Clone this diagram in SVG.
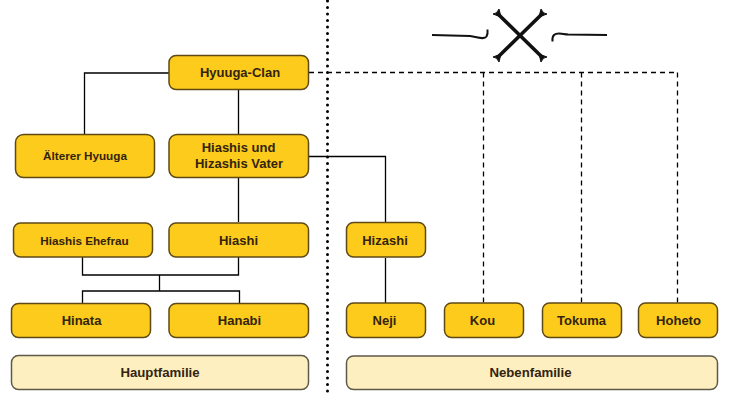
<svg xmlns="http://www.w3.org/2000/svg" width="730" height="400" viewBox="0 0 730 400">
<style>
.n{fill:#fdcb1b;stroke:#5e4a14;stroke-width:1.5}
.f{fill:#fdefc0;stroke:#5f5a48;stroke-width:1.5}
text{font-family:"Liberation Sans",Arial,sans-serif;font-weight:bold;text-anchor:middle;fill:#33240f}
.l{font-size:13px}
.s{font-size:11.700px}
.h{font-size:13.200px}
.c{fill:none;stroke:#000;stroke-width:1.300}
.d{fill:none;stroke:#000;stroke-width:1.300;stroke-dasharray:5 4}
</style>
<rect width="730" height="400" fill="#fff"/>
<g id="connectors">
<path class="c" d="M169 73H84.500V134"/>
<path class="c" d="M238.500 90V134"/>
<path class="c" d="M238.500 178V222"/>
<path class="c" d="M309 156.500H385.500V222"/>
<path class="c" d="M385.500 258V303"/>
<path class="c" d="M82.500 257V275H238.500V257"/>
<path class="c" d="M159.500 275V291"/>
<path class="c" d="M82.500 303V291H239.500V303"/>
<path class="d" d="M309 72.500H678"/>
<path class="d" d="M483.500 72.500V303"/>
<path class="d" d="M581.500 72.500V303"/>
<path class="d" d="M677.500 72.500V303"/>
</g>
<path id="divider" d="M327.500 1V392" fill="none" stroke="#000" stroke-width="3" stroke-linecap="round" stroke-dasharray="0 6.500"/>
<g id="emblem" fill="none" stroke="#111">
<path d="M497 13L543 58M543 13L497 58" stroke-width="3.600"/>
<path d="M493 14Q497 14 499 9L501 17ZM547 14Q543 14 541 9L539 17ZM493 57Q497 57 499 62L501 54ZM547 57Q543 57 541 62L539 54Z" fill="#111" stroke-width="1"/>
<path d="M432 35L470 36C478 37 484 40 486.500 36.500Q488 34 487.500 29.500" stroke-width="2"/>
<path d="M607 35L568 34.500C562 34 557 32 554 35Q552 37 552.500 41.500" stroke-width="2"/>
</g>
<g id="hyuuga-clan"><rect class="n" x="169" y="55.500" width="139.500" height="34" rx="7"/><text class="l" x="240" y="77">Hyuuga-Clan</text></g>
<g id="aelterer-hyuuga"><rect class="n" x="15.500" y="134.500" width="139" height="43" rx="8"/><text class="s" x="85" y="160">Älterer Hyuuga</text></g>
<g id="vater"><rect class="n" x="169" y="134.500" width="139.500" height="43" rx="8"/><text class="l" x="238.500" y="152">Hiashis und</text><text class="l" x="239" y="168">Hizashis Vater</text></g>
<g id="ehefrau"><rect class="n" x="13.500" y="223" width="139" height="34" rx="7"/><text class="s" x="84.500" y="245">Hiashis Ehefrau</text></g>
<g id="hiashi"><rect class="n" x="169" y="223" width="139.500" height="34" rx="7"/><text class="l" x="238.500" y="245">Hiashi</text></g>
<g id="hizashi"><rect class="n" x="346.500" y="222.500" width="79" height="34.500" rx="7"/><text class="l" x="385" y="245">Hizashi</text></g>
<g id="hinata"><rect class="n" x="11.500" y="303.500" width="139" height="34" rx="7"/><text class="l" x="81.500" y="325">Hinata</text></g>
<g id="hanabi"><rect class="n" x="169" y="303.500" width="139.500" height="34" rx="7"/><text class="l" x="239.500" y="325">Hanabi</text></g>
<g id="neji"><rect class="n" x="346.500" y="303" width="79" height="34.500" rx="7"/><text class="l" x="384.500" y="325">Neji</text></g>
<g id="kou"><rect class="n" x="444.500" y="303" width="79" height="34.500" rx="7"/><text class="l" x="482.500" y="325">Kou</text></g>
<g id="tokuma"><rect class="n" x="542.500" y="303" width="79" height="34.500" rx="7"/><text class="l" x="581.500" y="325">Tokuma</text></g>
<g id="hoheto"><rect class="n" x="638.500" y="303" width="79" height="34.500" rx="7"/><text class="l" x="678.500" y="325">Hoheto</text></g>
<g id="hauptfamilie"><rect class="f" x="11.500" y="355.500" width="297" height="34" rx="7"/><text class="h" x="160" y="377">Hauptfamilie</text></g>
<g id="nebenfamilie"><rect class="f" x="346.500" y="356" width="371" height="33.500" rx="7"/><text class="h" x="530.500" y="377">Nebenfamilie</text></g>
</svg>
